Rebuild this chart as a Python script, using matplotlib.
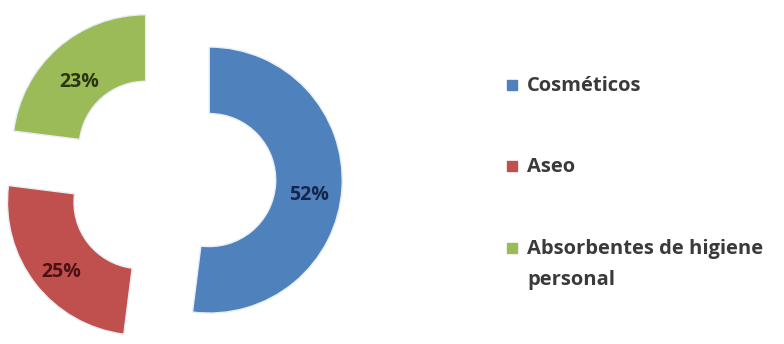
import matplotlib.pyplot as plt
from matplotlib.patches import Rectangle

categorias = ['Cosméticos', 'Aseo', 'Absorbentes de higiene\npersonal']
valores = [52, 25, 23]
colores = ['#4F81BD', '#C0504D', '#9BBB59']
colores_texto = ['#15264a', '#4a1212', '#27370f']

plt.rcParams['font.family'] = ['Open Sans', 'DejaVu Sans']

fig = plt.figure(figsize=(7.84, 3.44), dpi=100)
ax = fig.add_axes([0, 0, 345 / 784, 1])

wedges, textos, pct = ax.pie(valores, colors=colores, startangle=90, counterclock=False,
                             explode=[0.28, 0.3, 0.3], radius=1,
                             wedgeprops=dict(width=0.5, edgecolor='#e8eef5', linewidth=1),
                             autopct='%d%%', pctdistance=0.75)
for t, c in zip(pct, colores_texto):
    t.set_color(c)
    t.set_fontsize(14)
    t.set_fontweight('bold')
    x, y = t.get_position()
    t.set_position((x, y - 0.065))  # etiquetas un poco mas abajo

ax.set_xlim(-1.293, 1.30)
ax.set_ylim(-1.25, 1.336)
ax.set_aspect('equal')
ax.axis('off')

# leyenda
filas_y = [85, 166, 248]
for lab, col, yy in zip(categorias, colores, filas_y):
    yf = 1 - yy / 344
    fig.add_artist(Rectangle((507 / 784, yf - 5 / 344), 10 / 784, 10 / 344,
                             transform=fig.transFigure, color=col))
    fig.text(527 / 784, yf + 9 / 344, lab, fontsize=14.5, color='#3a3a3a',
             fontweight='bold', va='top', ha='left', linespacing=1.7)

fig.savefig('out.png', dpi=100, facecolor='white')
